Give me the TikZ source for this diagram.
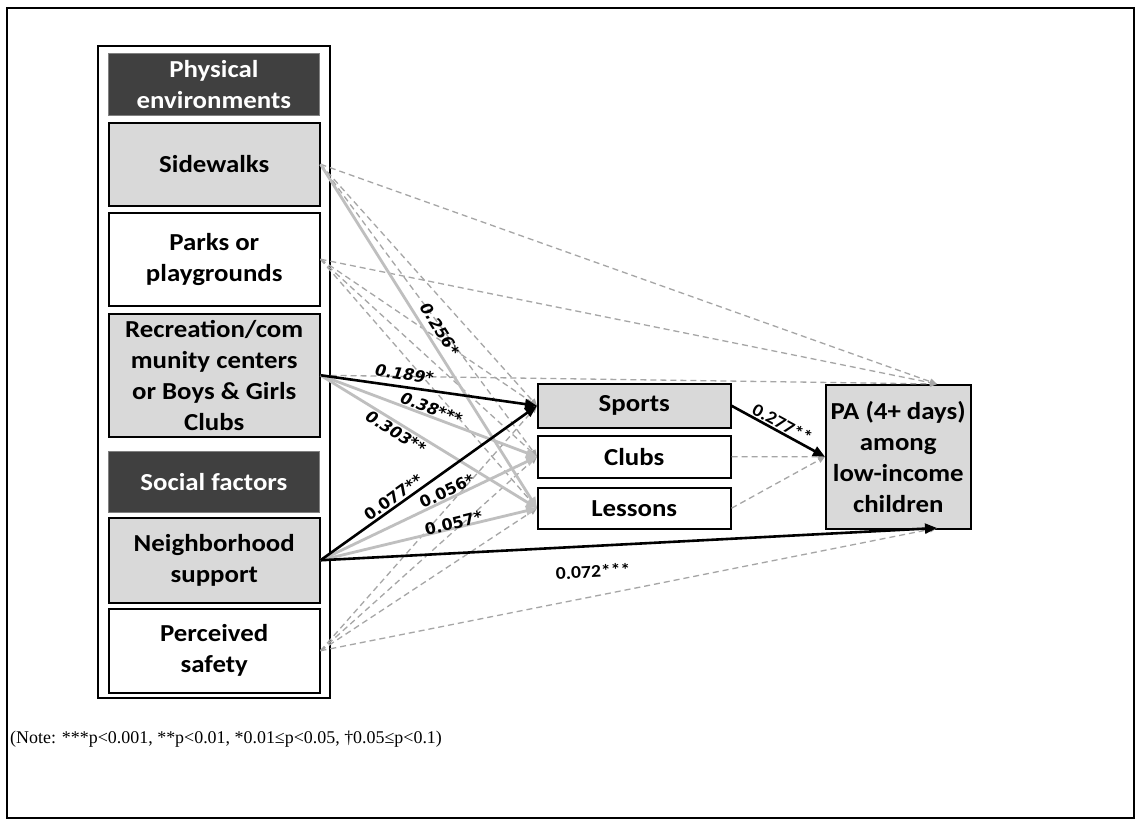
\documentclass[tikz,border=0pt]{standalone}
\usepackage{fontspec}
\setmainfont{Carlito}[FakeStretch=1.1]
\newfontfamily\lblfont{DejaVu Sans}
\newfontfamily\notefont{Liberation Serif}
\usetikzlibrary{arrows.meta}

\definecolor{boxgray}{HTML}{D9D9D9}
\definecolor{hdrgray}{HTML}{404040}
\definecolor{pathgray}{HTML}{BFBFBF}
\definecolor{dashgray}{HTML}{A6A6A6}

\tikzset{
  box/.style={draw=black, line width=1.5bp, align=center, inner sep=0pt,
    anchor=north west, font=\fontsize{24.5}{31}\selectfont\bfseries},
  hdr/.style={box, draw=gray, line width=0.8bp, fill=hdrgray, text=white},
  shaded/.style={box, fill=boxgray},
  plain/.style={box, fill=white},
  dsh/.style={draw=dashgray, line width=1.3bp, dash pattern=on 6bp off 4bp,
    -{Triangle[length=7bp,width=6bp]}},
  sig/.style={draw=pathgray, line width=2.8bp,
    -{Triangle[length=11bp,width=9bp]}},
  strong/.style={draw=black, line width=2.6bp,
    -{Triangle[length=12bp,width=10bp]}},
  lbl/.style={sloped, inner sep=1.5bp, font=\lblfont\fontsize{16}{18}\selectfont\bfseries},
  lbli/.style={lbl, font=\lblfont\fontsize{16}{18}\selectfont\bfseries\itshape},
  lblc/.style={sloped, inner sep=1.5bp, font=\fontsize{18}{20}\selectfont\bfseries}
}

\begin{document}
\begin{tikzpicture}[x=1bp,y=-1bp]
\useasboundingbox (0,0) rectangle (1141,825);
\fill[white] (0,0) rectangle (1141,825);
% page frame
\draw[line width=1.5bp] (7,8) rectangle (1134,818);

% container of the predictors
\draw[line width=2.4bp] (98,46) rectangle (330,698);

% predictors
\node[hdr, minimum width=211bp, minimum height=62bp] (hphys) at (108,53) {Physical\\environments};
\node[shaded, minimum width=211bp, minimum height=83bp] (side) at (108,122) {Sidewalks};
\node[plain, minimum width=211bp, minimum height=93bp] (park) at (108,212) {Parks or\\playgrounds};
\node[shaded, minimum width=211bp, minimum height=123bp] (rec) at (108,313) {Recreation/com\\munity centers\\or Boys \& Girls\\Clubs};
\node[hdr, minimum width=211bp, minimum height=61bp] (hsoc) at (108,451) {Social factors};
\node[shaded, minimum width=211bp, minimum height=85bp] (nb) at (108,517) {Neighborhood\\support};
\node[plain, minimum width=211bp, minimum height=84bp] (safe) at (108,608) {Perceived\\safety};

% mediators
\node[shaded, minimum width=193bp, minimum height=44bp] (sports) at (537,383) {Sports};
\node[plain, minimum width=193bp, minimum height=42bp] (clubs) at (537,435) {Clubs};
\node[plain, minimum width=193bp, minimum height=41bp] (lessons) at (537,487) {Lessons};

% outcome
\node[shaded, minimum width=145bp, minimum height=144bp] (pa) at (825,384) {PA (4+ days)\\among\\low-income\\children};
\coordinate (patop) at (937,384);
\coordinate (pabot) at (937,528);

% non-significant paths
\draw[dsh] (side.east) -- (sports.west);
\draw[dsh] (side.east) -- (clubs.west);
\draw[dsh] (side.east) -- (patop);
\draw[dsh] (park.east) -- (sports.west);
\draw[dsh] (park.east) -- (clubs.west);
\draw[dsh] (park.east) -- (lessons.west);
\draw[dsh] (park.east) -- (patop);
\draw[dsh] (rec.east) -- (patop);
\draw[dsh] (safe.east) -- (sports.west);
\draw[dsh] (safe.east) -- (clubs.west);
\draw[dsh] (safe.east) -- (lessons.west);
\draw[dsh] (safe.east) -- (pabot);
\draw[dsh] (clubs.east) -- (pa.west);
\draw[dsh] (lessons.east) -- (pa.west);

% significant paths to clubs and lessons
\draw[sig] (side.east) -- node[lbli, pos=0.5, above=4bp] {0.256*} (lessons.west);
\draw[sig] (rec.east) -- node[lbli, pos=0.5, above, inner sep=0.5bp] {0.38***} (clubs.west);
\draw[sig] (rec.east) -- node[lbli, pos=0.37, below] {0.303**} (lessons.west);
\draw[sig] (nb.east) -- node[lbl, pos=0.6, above, inner sep=0.5bp] {0.056*} (clubs.west);
\draw[sig] (nb.east) -- node[lbl, pos=0.62, above=-4bp] {0.057*} (lessons.west);

% significant paths to sports and PA
\draw[strong] (rec.east) -- node[lbli, pos=0.38, above=4bp] {0.189*} (sports.west);
\draw[strong] (nb.east) -- node[lbl, pos=0.36, above] {0.077**} (sports.west);
\draw[strong] (nb.east) -- node[lblc, pos=0.44, below=16bp] {0.072***} (pabot);
\draw[strong] (sports.east) -- node[lblc, pos=0.5, above, inner sep=1bp] {0.277**} (pa.west);

% significance note
\node[anchor=base west, inner sep=0pt, font=\notefont\fontsize{18}{20}\selectfont] (note) at (10,743)
  {(Note: ***p<0.001, **p<0.01, *0.01≤p<0.05, †0.05≤p<0.1)};
\end{tikzpicture}
\end{document}
